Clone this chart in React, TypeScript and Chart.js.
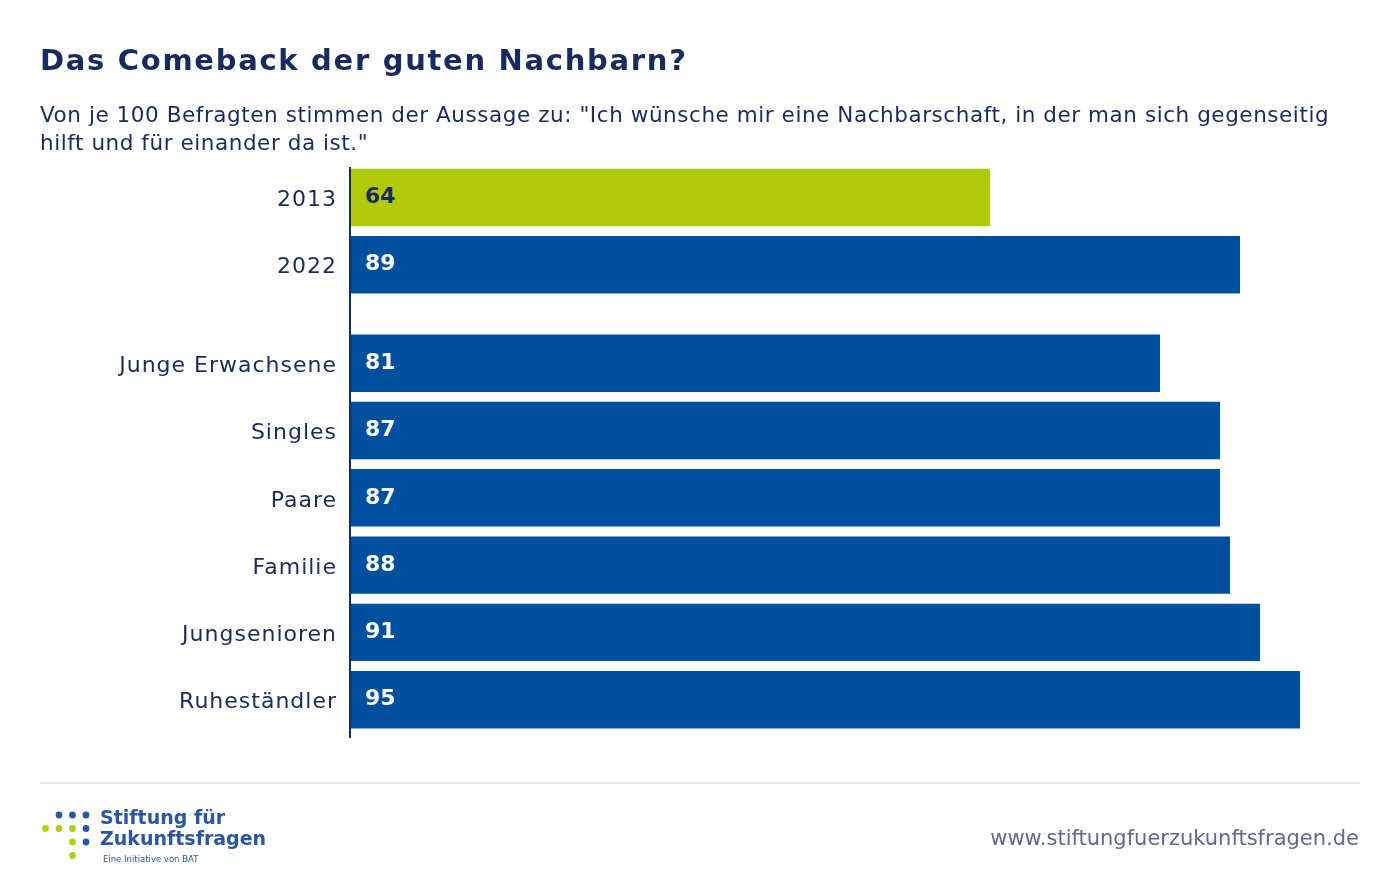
import React, { useEffect, useRef } from "react";
import { Chart, registerables } from "chart.js";

Chart.register(...registerables);

// ---------- data ----------
const categories = [
  "2013",
  "2022",
  "Junge Erwachsene",
  "Singles",
  "Paare",
  "Familie",
  "Jungsenioren",
  "Ruheständler",
];
const values = [64, 89, 81, 87, 87, 88, 91, 95];
const highlightCategory = "2013";
const groupBreakAfter = "2022";

const titleText = "Das Comeback der guten Nachbarn?";
const subtitleLines = [
  'Von je 100 Befragten stimmen der Aussage zu: "Ich wünsche mir eine Nachbarschaft, in der man sich gegenseitig',
  'hilft und für einander da ist."',
];
const logoLines = ["Stiftung für", "Zukunftsfragen"];
const logoTagline = "Eine Initiative von BAT";
const sourceUrl = "www.stiftungfuerzukunftsfragen.de";

// ---------- style ----------
const FONT = "'DejaVu Sans', Verdana, sans-serif";
const NAVY = "#172b5e";
const BLUE = "#00509f";
const GREEN = "#b0ca0a";
const LOGO_BLUE = "#2c55a4";
const LOGO_GREEN = "#b3cc16";
const GREY = "#5d6b90";
const GAP = 0.463; // extra space (in rows) between the two groups

const breakIndex = categories.indexOf(groupBreakAfter);
const positions = categories.map((_, i) => i + (i > breakIndex ? GAP : 0));

const decorPlugin = {
  id: "decor",
  afterDraw(chart: any) {
    const ctx: CanvasRenderingContext2D = chart.ctx;
    (ctx as any).letterSpacing = "0px";
    ctx.save();
    ctx.textBaseline = "alphabetic";
    ctx.textAlign = "left";

    // title
    ctx.fillStyle = NAVY;
    ctx.font = `bold 29px ${FONT}`;
    (ctx as any).letterSpacing = "1.7px";
    ctx.fillText(titleText, 40, 70);

    // subtitle
    ctx.font = `21.5px ${FONT}`;
    (ctx as any).letterSpacing = "0.56px";
    ctx.fillText(subtitleLines[0], 40, 121.5);
    ctx.fillText(subtitleLines[1], 40, 150);
    (ctx as any).letterSpacing = "0px";

    // footer rule
    ctx.strokeStyle = "#e3e7f1";
    ctx.lineWidth = 2;
    ctx.beginPath();
    ctx.moveTo(40, 783);
    ctx.lineTo(1360, 783);
    ctx.stroke();

    // logo dots
    const dot = (x: number, y: number, c: string) => {
      ctx.fillStyle = c;
      ctx.beginPath();
      ctx.arc(x, y, 3.4, 0, Math.PI * 2);
      ctx.fill();
    };
    dot(59, 815, LOGO_BLUE);
    dot(72.5, 815, LOGO_BLUE);
    dot(86, 815, LOGO_BLUE);
    dot(45.5, 828.5, LOGO_GREEN);
    dot(59, 828.5, LOGO_GREEN);
    dot(72.5, 828.5, LOGO_GREEN);
    dot(86, 828.5, LOGO_BLUE);
    dot(72.5, 842, LOGO_GREEN);
    dot(86, 842, LOGO_BLUE);
    dot(72.5, 855.5, LOGO_GREEN);

    // logo text
    ctx.fillStyle = LOGO_BLUE;
    ctx.font = `bold 19px ${FONT}`;
    ctx.fillText(logoLines[0], 100, 824);
    ctx.fillText(logoLines[1], 100, 845);
    ctx.font = `8.5px ${FONT}`;
    ctx.fillText(logoTagline, 103, 862);

    // url
    ctx.fillStyle = GREY;
    ctx.font = `21px ${FONT}`;
    ctx.textAlign = "right";
    ctx.fillText(sourceUrl, 1359, 845);

    ctx.restore();
  },
};

const valueLabelPlugin = {
  id: "valueLabels",
  afterDatasetsDraw(chart: any) {
    const ctx: CanvasRenderingContext2D = chart.ctx;
    const meta = chart.getDatasetMeta(0);
    ctx.save();
    ctx.font = `bold 22px ${FONT}`;
    ctx.textAlign = "left";
    ctx.textBaseline = "middle";
    meta.data.forEach((bar: any, i: number) => {
      ctx.fillStyle = categories[i] === highlightCategory ? NAVY : "#ffffff";
      ctx.fillText(String(values[i]), bar.base + 15, bar.y);
    });
    ctx.restore();
    // slight tracking for the category labels drawn next (ticks have z: 1)
    (ctx as any).letterSpacing = "1px";
  },
};

export default function App() {
  const canvasRef = useRef<HTMLCanvasElement | null>(null);

  useEffect(() => {
    document.body.style.margin = "0";
    const canvas = canvasRef.current;
    if (!canvas) return;
    const chart = new Chart(canvas, {
      type: "bar",
      data: {
        datasets: [
          {
            data: values.map((v, i) => ({ x: v, y: positions[i] })),
            backgroundColor: categories.map((c) =>
              c === highlightCategory ? GREEN : BLUE
            ),
            borderWidth: 0,
            barPercentage: 0.853,
            categoryPercentage: 1,
          },
        ],
      },
      options: {
        indexAxis: "y",
        animation: false,
        responsive: false,
        devicePixelRatio: 1,
        layout: { padding: { top: 168, bottom: 155, right: 50, left: 0 } },
        plugins: {
          legend: { display: false },
          tooltip: { enabled: false },
          title: { display: false },
        },
        scales: {
          x: {
            type: "linear",
            min: 0,
            max: 100,
            display: false,
          },
          y: {
            type: "linear",
            reverse: true,
            offset: false,
            min: -0.438,
            max: 8.017,
            afterFit(scale: any) {
              scale.width = 350;
            },
            afterBuildTicks(scale: any) {
              scale.ticks = positions.map((p) => ({ value: p }));
            },
            grid: { display: false, drawTicks: false, offset: false },
            border: { display: true, color: NAVY, width: 2, z: 1 },
            ticks: {
              z: 1,
              autoSkip: false,
              padding: 13,
              labelOffset: 3,
              color: NAVY,
              font: { family: FONT, size: 22 },
              callback: (_v: any, index: number) => categories[index],
            },
          },
        },
      },
      plugins: [valueLabelPlugin, decorPlugin],
    } as any);
    return () => chart.destroy();
  }, []);

  return (
    <div
      style={{
        position: "absolute",
        left: 0,
        top: 0,
        width: 1400,
        height: 892,
        background: "#ffffff",
        overflow: "hidden",
      }}
    >
      <canvas
        ref={canvasRef}
        width={1400}
        height={892}
        style={{ width: 1400, height: 892, display: "block" }}
      />
    </div>
  );
}
